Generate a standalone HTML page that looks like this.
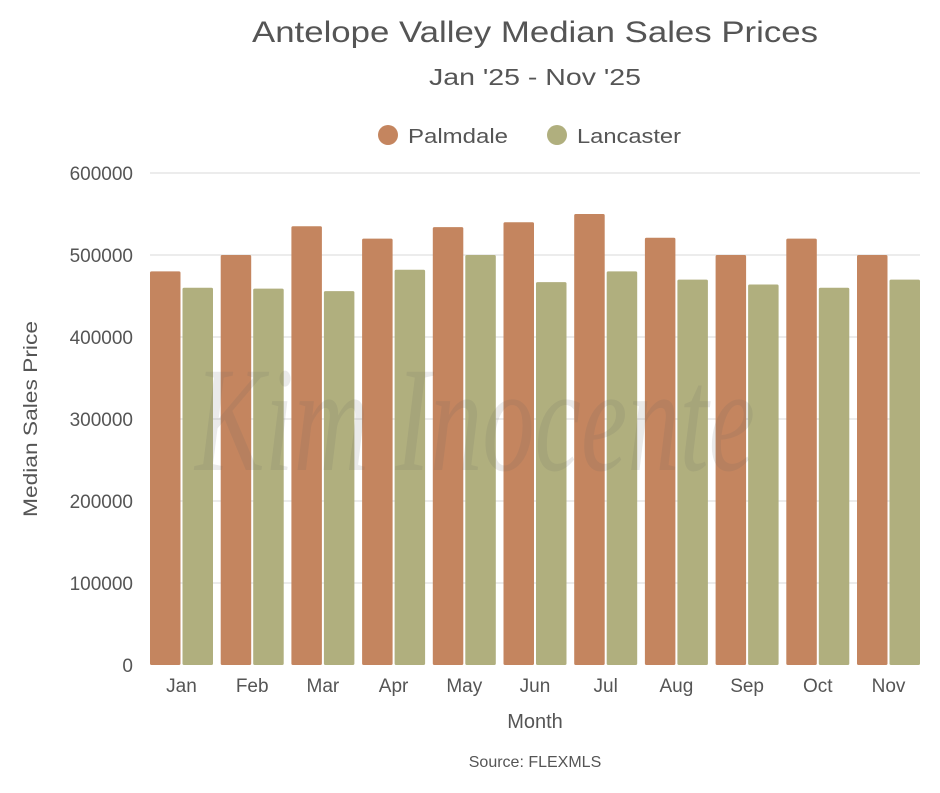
<!DOCTYPE html>
<html><head><meta charset="utf-8"><style>
body{margin:0;background:#fff;}
svg text{font-family:"Liberation Sans",sans-serif;fill:#555;}
</style></head><body>
<svg width="940" height="788" xmlns="http://www.w3.org/2000/svg">
<rect width="940" height="788" fill="#fff"/>
<text x="535" y="42" font-size="30" text-anchor="middle" textLength="566" lengthAdjust="spacingAndGlyphs">Antelope Valley Median Sales Prices</text>
<text x="535" y="85" font-size="23" text-anchor="middle" textLength="212" lengthAdjust="spacingAndGlyphs">Jan '25 - Nov '25</text>
<circle cx="388" cy="135" r="10" fill="#C4855F"/>
<text x="408" y="143" font-size="20" textLength="100" lengthAdjust="spacingAndGlyphs">Palmdale</text>
<circle cx="557" cy="135" r="10" fill="#B0AF7E"/>
<text x="577" y="143" font-size="20" textLength="104" lengthAdjust="spacingAndGlyphs">Lancaster</text>
<g stroke="#e6e6e6" stroke-width="1.5">
<line x1="150" x2="920" y1="173" y2="173"/>
<line x1="150" x2="920" y1="255" y2="255"/>
<line x1="150" x2="920" y1="337" y2="337"/>
<line x1="150" x2="920" y1="419" y2="419"/>
<line x1="150" x2="920" y1="501" y2="501"/>
<line x1="150" x2="920" y1="583" y2="583"/>
</g>
<g font-size="19" text-anchor="end">
<text x="133" y="180">600000</text>
<text x="133" y="262">500000</text>
<text x="133" y="344">400000</text>
<text x="133" y="426">300000</text>
<text x="133" y="508">200000</text>
<text x="133" y="590">100000</text>
<text x="133" y="672">0</text>
</g>
<text transform="translate(37,419) rotate(-90)" font-size="19" text-anchor="middle" textLength="196" lengthAdjust="spacingAndGlyphs">Median Sales Price</text>
<g fill="#C4855F">
<rect x="150" y="271.4" width="30.5" height="393.6" rx="1.5"/>
<rect x="220.7" y="255" width="30.5" height="410" rx="1.5"/>
<rect x="291.4" y="226.3" width="30.5" height="438.7" rx="1.5"/>
<rect x="362.1" y="238.6" width="30.5" height="426.4" rx="1.5"/>
<rect x="432.8" y="227.1" width="30.5" height="437.9" rx="1.5"/>
<rect x="503.5" y="222.2" width="30.5" height="442.8" rx="1.5"/>
<rect x="574.2" y="214" width="30.5" height="451" rx="1.5"/>
<rect x="644.9" y="237.8" width="30.5" height="427.2" rx="1.5"/>
<rect x="715.6" y="255" width="30.5" height="410" rx="1.5"/>
<rect x="786.3" y="238.6" width="30.5" height="426.4" rx="1.5"/>
<rect x="857" y="255" width="30.5" height="410" rx="1.5"/>
</g>
<g fill="#B0AF7E">
<rect x="182.5" y="287.8" width="30.5" height="377.2" rx="1.5"/>
<rect x="253.2" y="288.6" width="30.5" height="376.4" rx="1.5"/>
<rect x="323.9" y="291.1" width="30.5" height="373.9" rx="1.5"/>
<rect x="394.6" y="269.8" width="30.5" height="395.2" rx="1.5"/>
<rect x="465.3" y="255" width="30.5" height="410" rx="1.5"/>
<rect x="536" y="282.1" width="30.5" height="382.9" rx="1.5"/>
<rect x="606.7" y="271.4" width="30.5" height="393.6" rx="1.5"/>
<rect x="677.4" y="279.6" width="30.5" height="385.4" rx="1.5"/>
<rect x="748.1" y="284.5" width="30.5" height="380.5" rx="1.5"/>
<rect x="818.8" y="287.8" width="30.5" height="377.2" rx="1.5"/>
<rect x="889.5" y="279.6" width="30.5" height="385.4" rx="1.5"/>
</g>
<g font-size="19" text-anchor="middle">
<text x="181.5" y="692">Jan</text>
<text x="252.2" y="692">Feb</text>
<text x="322.9" y="692">Mar</text>
<text x="393.6" y="692">Apr</text>
<text x="464.3" y="692">May</text>
<text x="535" y="692">Jun</text>
<text x="605.7" y="692">Jul</text>
<text x="676.4" y="692">Aug</text>
<text x="747.1" y="692">Sep</text>
<text x="817.8" y="692">Oct</text>
<text x="888.5" y="692">Nov</text>
</g>
<text x="535" y="728" font-size="20" text-anchor="middle">Month</text>
<text x="535" y="767" font-size="16" text-anchor="middle">Source: FLEXMLS</text>
<text x="195" y="470" font-size="150" font-style="italic" textLength="560" lengthAdjust="spacingAndGlyphs" style="font-family:'Liberation Serif',serif;fill:#666;opacity:0.13">Kim Inocente</text>
</svg>
</body></html>
